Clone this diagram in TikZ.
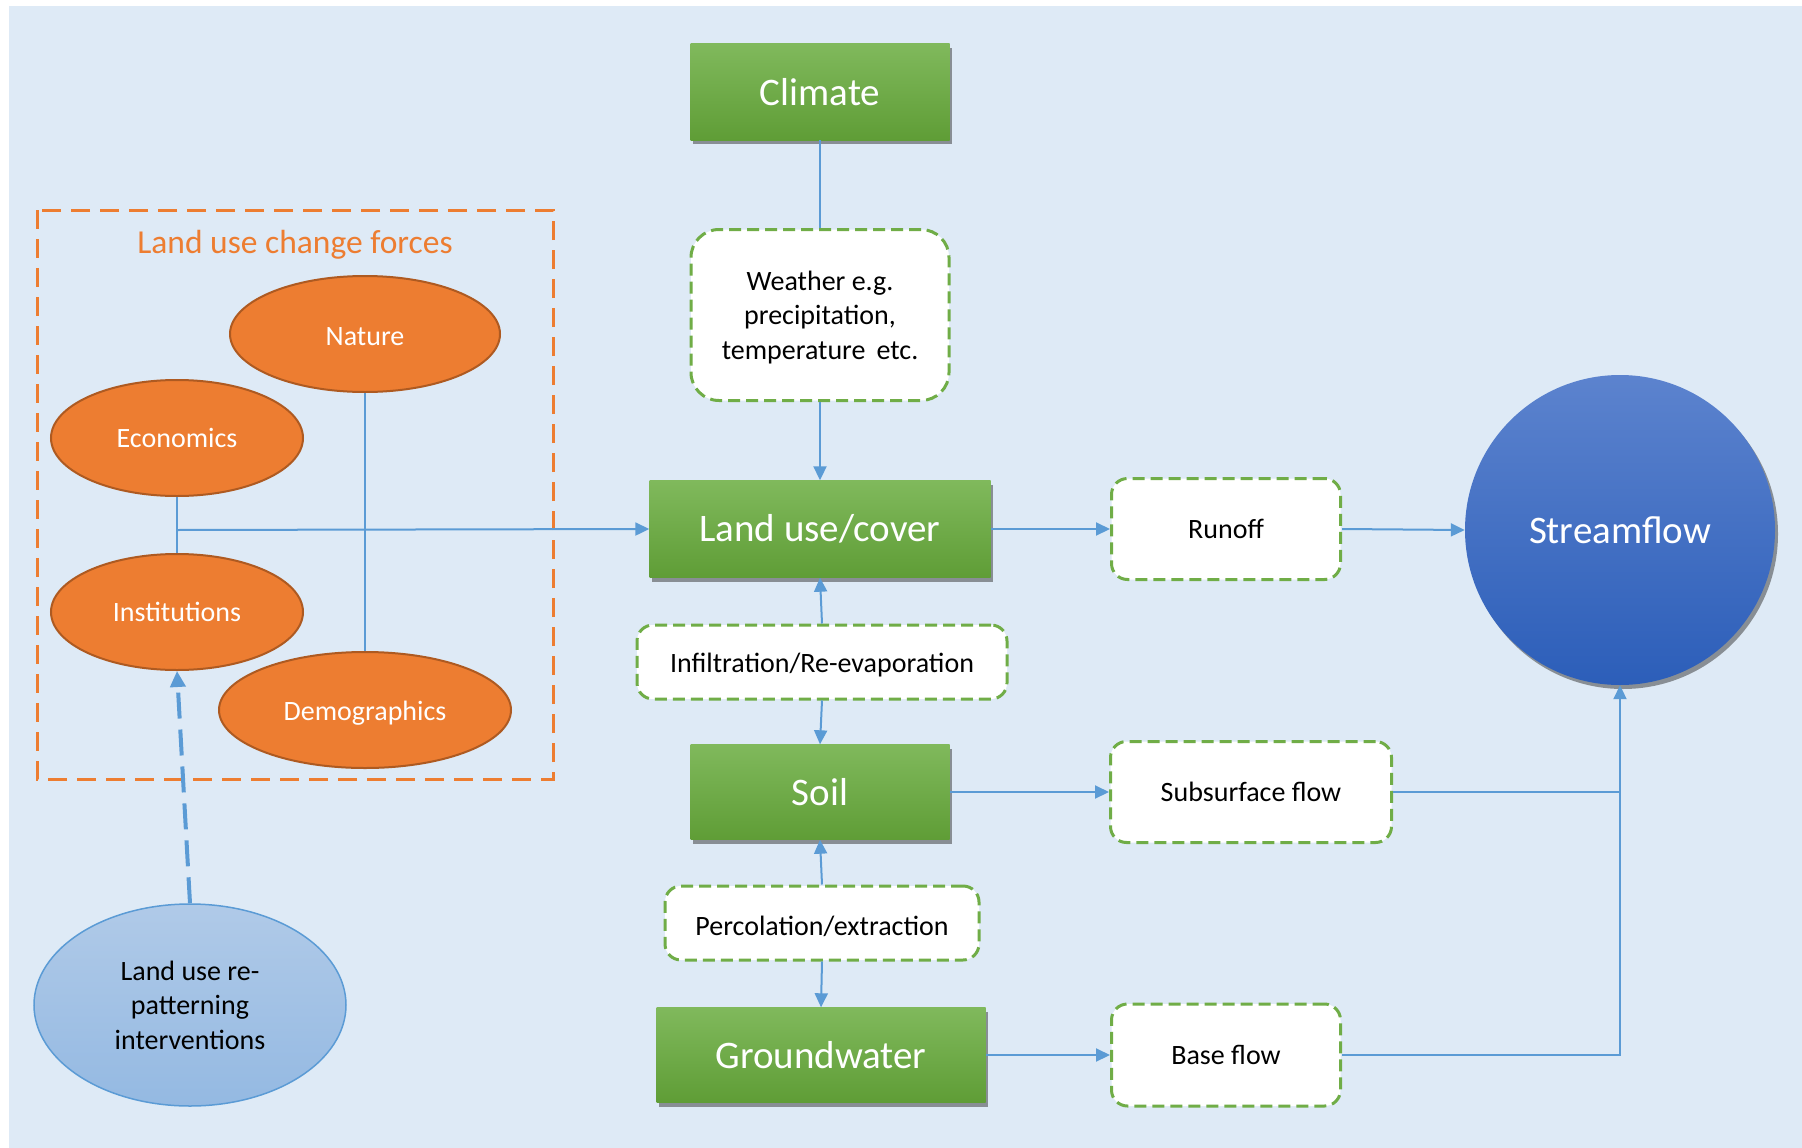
\documentclass[tikz,border=0pt]{standalone}
\usepackage{fontspec}
\setmainfont{Carlito}
\usetikzlibrary{arrows.meta,shapes.geometric,shadows,positioning}
\definecolor{bgblue}{HTML}{DEEAF6}
\definecolor{conn}{HTML}{5B9BD5}
\definecolor{gtop}{HTML}{80B95C}
\definecolor{gbot}{HTML}{5F9D36}
\definecolor{gdash}{HTML}{70AD47}
\definecolor{orng}{HTML}{ED7D31}
\definecolor{orngdk}{HTML}{AE5A21}
\definecolor{sftop}{HTML}{5C83CE}
\definecolor{sfbot}{HTML}{2C5EB9}
\definecolor{ltop}{HTML}{B0CAE8}
\definecolor{lbot}{HTML}{94B9E2}
\newcommand\lowr[1]{\raisebox{-3pt}[\height][\depth]{#1}}
\tikzset{
  bigfont/.style={font=\fontsize{39}{46}\selectfont},
  smallfont/.style={font=\fontsize{28}{34.5}\selectfont},
  greenbox/.style={rectangle, inner sep=0pt, top color=gtop, bottom color=gbot,
     draw=none, text=white, bigfont,
     drop shadow={shadow xshift=2pt, shadow yshift=-4pt, opacity=0.5, fill=black!80}},
  dashbox/.style={rectangle, rounded corners=16pt, fill=white, draw=gdash,
     line width=3pt, dash pattern=on 12pt off 6pt, inner sep=0pt, text=black, smallfont, align=center},
  force/.style={ellipse, inner sep=0pt, fill=orng, draw=orngdk, line width=2pt, text=white, smallfont},
  conline/.style={draw=conn, line width=2pt},
  conarrow/.style={conline, -{Triangle[length=14pt,width=13pt]}},
}
\begin{document}
\begin{tikzpicture}[x=1pt,y=-1pt]
\useasboundingbox (0,0) rectangle (1802,1148);
\fill[bgblue] (9,6) rectangle (1802,1148);

% orange dashed group box
\draw[orng, line width=3pt, dash pattern=on 19pt off 10pt] (37,210) rectangle (553,779);
\node[text=orng, font=\fontsize{33.5}{40}\selectfont] (title) at (295,245) {Land use change forces};

% central column
\node[greenbox, minimum width=259pt, minimum height=96pt] (climate) at (820,92) {Climate};
\node[dashbox, rounded corners=28pt, minimum width=258pt, minimum height=171pt] (weather) at (820,315)
  {\lowr{\begin{tabular}{@{}c@{}}Weather e.g.\\precipitation,\\temperature\,\ etc.\end{tabular}}};
\node[greenbox, minimum width=341pt, minimum height=97pt] (landuse) at (820,529) {Land use/cover};
\node[dashbox, minimum width=370pt, minimum height=74pt] (infil) at (822,662) {\lowr{Infiltration/Re-evaporation}};
\node[greenbox, minimum width=259pt, minimum height=95pt] (soil) at (820,792) {Soil};
\node[dashbox, minimum width=314pt, minimum height=74pt] (perc) at (822,923) {\lowr{Percolation/extraction}};
\node[greenbox, minimum width=329pt, minimum height=95pt] (ground) at (821,1055) {Groundwater};

% right column
\node[dashbox, minimum width=229pt, minimum height=101pt] (runoff) at (1226,529) {Runoff};
\node[dashbox, minimum width=281pt, minimum height=101pt] (subsurf) at (1251,792) {Subsurface flow};
\node[dashbox, minimum width=229pt, minimum height=102pt] (base) at (1226,1055) {Base flow};
\node[circle, minimum size=310pt, inner sep=0pt, top color=sftop, bottom color=sfbot, text=white, bigfont,
  drop shadow={shadow xshift=3pt, shadow yshift=-4pt, opacity=0.5, fill=black!80}] (stream) at (1620,530) {Streamflow};

% forces
\node[force, minimum width=270pt, minimum height=116pt] (nature) at (365,334) {\lowr{Nature}};
\node[force, minimum width=252pt, minimum height=116pt] (econ) at (177,438) {Economics};
\node[force, minimum width=252pt, minimum height=116pt] (inst) at (177,612) {Institutions};
\node[force, minimum width=292pt, minimum height=116pt] (demo) at (365,710) {\lowr{Demographics}};

% interventions
\node[ellipse, minimum width=312pt, minimum height=202pt, inner sep=0pt, top color=ltop, bottom color=lbot,
  draw=conn, line width=1.5pt, smallfont, align=center, text=black] (interv) at (190,1005)
  {Land use re-\\patterning\\interventions};

% connectors: forces
\coordinate (j1) at (177,530);
\draw[conline] (econ.south) -- (inst.north);
\draw[conline] (nature.south) -- (demo.north);
\draw[conarrow] (j1) -- (landuse.west);
\draw[conline, line width=4pt, dash pattern=on 26pt off 11pt, -{Triangle[length=16pt,width=15pt]}]
  (interv.north) -- (inst.south);

% central column connectors
\draw[conline] (climate.south) -- (weather.north);
\draw[conarrow] (weather.south) -- (landuse.north);
\draw[conarrow] (infil.north) -- (landuse.south);
\draw[conarrow] (infil.south) -- (soil.north);
\draw[conarrow] (perc.north) -- (soil.south);
\draw[conarrow] (perc.south) -- (ground.north);

% to the right
\draw[conarrow] (landuse.east) -- (runoff.west);
\draw[conarrow] (soil.east) -- (subsurf.west);
\draw[conarrow] (ground.east) -- (base.west);
\draw[conarrow] (runoff.east) -- (stream.west);
\coordinate (jb) at (stream.south |- base.east);
\draw[conline] (subsurf.east) -- (stream.south |- subsurf.east);
\draw[conarrow] (base.east) -- (jb) -- (stream.south);
\end{tikzpicture}
\end{document}
